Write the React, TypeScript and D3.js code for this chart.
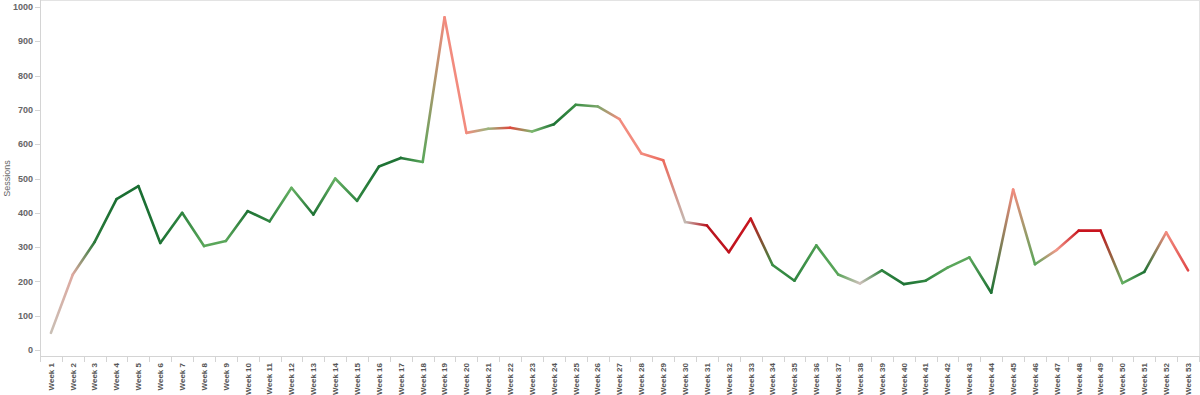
import React from 'react';
import * as d3 from 'd3';

const weeks = d3.range(1, 54).map((i) => `Week ${i}`);

const sessions = [
  50, 220, 315, 440, 478, 312, 400, 303, 318, 405,
  375, 473, 395, 500, 435, 535, 560, 548, 970, 633,
  645, 648, 637, 658, 715, 710, 673, 573, 553, 373,
  363, 285, 383, 248, 202, 305, 220, 194, 232, 192,
  202, 240, 270, 167, 468, 250, 292, 348, 348, 195,
  228, 343, 232,
];

// colour of the line at each week (diverging red-green measure)
const pointColors = [
  '#c9bfb5', '#dea9a0', '#2a7a3a', '#1a6e32', '#1a6e32', '#1f7335', '#2f8540', '#5aa65a', '#5aa65a', '#1f7335',
  '#2f8540', '#66b063', '#1f7335', '#66b063', '#2f8540', '#1f7335', '#1f7335', '#5aa65a', '#f28b7e', '#f28b7e',
  '#9ab57e', '#e0463c', '#7db870', '#1f7335', '#3b8f45', '#7aa66a', '#f28b7e', '#f28b7e', '#ec6a5c', '#c3bab3',
  '#b8141e', '#c0141e', '#c8141e', '#3b8f45', '#2f8540', '#4e9e52', '#5aa65a', '#cfc0bb', '#2f8540', '#1f7335',
  '#2f8540', '#5aa65a', '#5aa65a', '#1f7335', '#f28b7e', '#5aa65a', '#f2988a', '#c8141e', '#c8141e', '#66b063',
  '#1f7335', '#f28b7e', '#e04848',
];

const yTicks = [0, 100, 200, 300, 400, 500, 600, 700, 800, 900, 1000];

export default function App() {
  const width = 1200, height = 395;
  const left = 40, right = 1199, top = 7, bottom = 350, axisY = 356;

  const x = d3.scaleBand().domain(weeks).range([left, right]);
  const y = d3.scaleLinear().domain([0, 1000]).range([bottom, top]);

  const pts = weeks.map((w, i) => ({
    x: (x(w) as number) + x.bandwidth() / 2,
    y: y(sessions[i]),
    c: pointColors[i],
  }));

  const font = '"Liberation Sans", Arial, sans-serif';
  const seg = d3.line<{ x: number; y: number }>().x((d) => d.x).y((d) => d.y);

  return (
    <svg width={width} height={height} style={{ position: 'absolute', left: 0, top: 0, background: '#fff' }}>
      <defs>
        {pts.slice(1).map((p, i) => (
          <linearGradient key={i} id={`seg${i}`} gradientUnits="userSpaceOnUse"
            x1={pts[i].x} y1={pts[i].y} x2={p.x} y2={p.y}>
            <stop offset="0%" stopColor={pts[i].c} />
            <stop offset="100%" stopColor={p.c} />
          </linearGradient>
        ))}
      </defs>

      {/* pane border */}
      <line x1={left} x2={right} y1={0.5} y2={0.5} stroke="#e3e3e3" />
      <line x1={right + 0.5} x2={right + 0.5} y1={0} y2={axisY} stroke="#e3e3e3" />

      {/* y axis */}
      <line x1={left + 0.5} x2={left + 0.5} y1={0} y2={axisY} stroke="#d4d4d4" />
      {yTicks.map((t) => (
        <g key={t}>
          <line x1={left - 5} x2={left} y1={Math.round(y(t)) + 0.5} y2={Math.round(y(t)) + 0.5} stroke="#d4d4d4" />
          <text x={left - 7} y={y(t)} dy="0.35em" textAnchor="end" fontFamily={font}
            fontSize={9} fontWeight="bold" fill="#666">{t}</text>
        </g>
      ))}
      <text transform={`translate(10,${(top + bottom) / 2}) rotate(-90)`} textAnchor="middle"
        fontFamily={font} fontSize={9} fill="#666">Sessions</text>

      {/* x axis */}
      <line x1={left} x2={right} y1={axisY + 0.5} y2={axisY + 0.5} stroke="#d4d4d4" />
      {weeks.map((w) => {
        const x0 = x(w) as number;
        const cx = x0 + x.bandwidth() / 2;
        return (
          <g key={w}>
            <line x1={Math.round(x0) + 0.5} x2={Math.round(x0) + 0.5} y1={axisY} y2={axisY + 6} stroke="#d4d4d4" />
            <text transform={`translate(${cx},${axisY + 7}) rotate(-90)`} textAnchor="end" dy="0.35em"
              fontFamily={font} fontSize={8} fontWeight="bold" fill="#555">{w}</text>
          </g>
        );
      })}
      <line x1={right + 0.5} x2={right + 0.5} y1={axisY} y2={axisY + 6} stroke="#d4d4d4" />

      {/* line segments */}
      {pts.slice(1).map((p, i) => (
        <path key={i} d={seg([pts[i], p]) as string}
          stroke={`url(#seg${i})`} strokeWidth={2.6} fill="none" strokeLinecap="round" strokeLinejoin="round" />
      ))}
    </svg>
  );
}
